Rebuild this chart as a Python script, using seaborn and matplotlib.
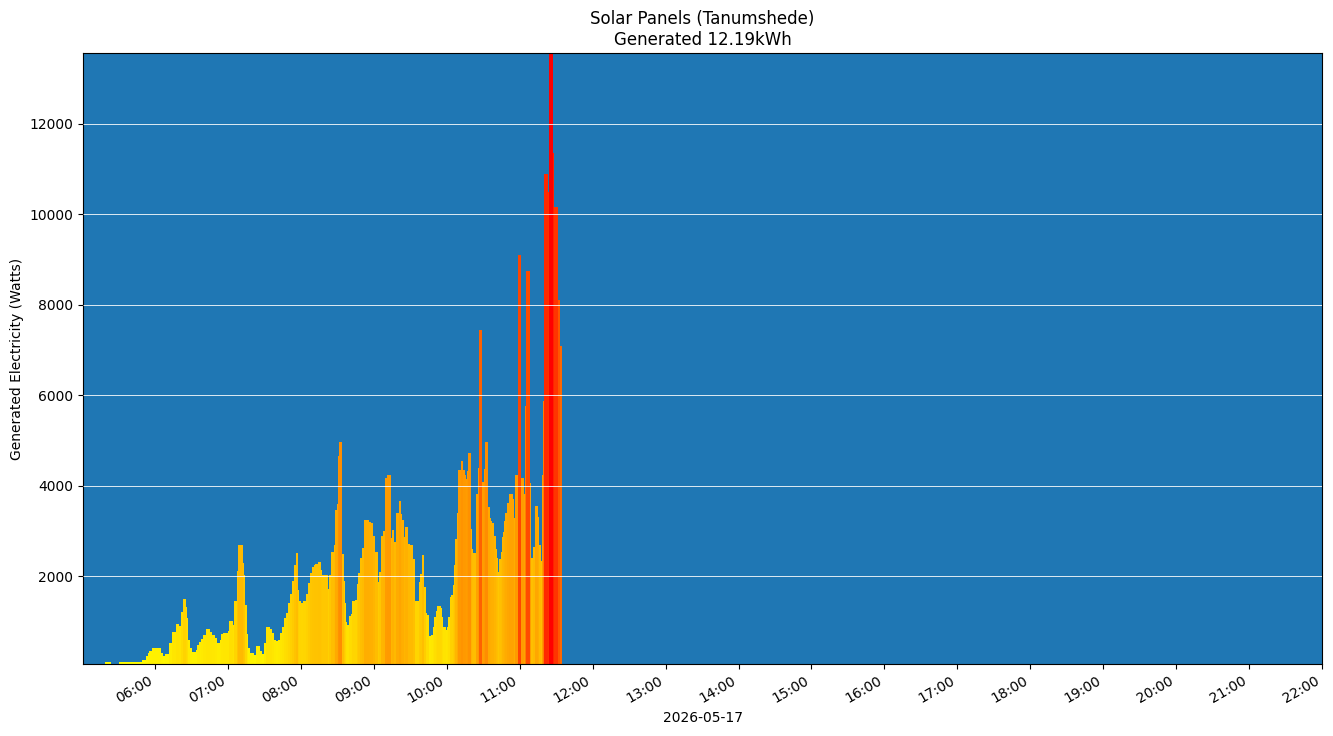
import matplotlib
matplotlib.use("Agg")
import matplotlib.pyplot as plt
import matplotlib.dates as mdates
from matplotlib.colors import LinearSegmentedColormap
import numpy as np
import pandas as pd
import seaborn as sns

# readings: minutes after 05:00 when the power level changed, and the level (W)
day = "2026-05-17"
start_min = [19.0, 24.0, 30.5, 49.1, 52.4, 54.0, 55.1, 57.3, 65.0, 66.1, 67.8, 68.3, 71.1, 71.6,
             73.8, 77.1, 79.3, 79.8, 81.5, 82.6, 85.3, 86.4, 87.0, 88.6, 90.3, 93.5, 94.6, 96.3,
             97.4, 99.0, 101.8, 105.1, 106.7, 108.9, 110.6, 113.3, 114.4, 116.0, 120.2, 121.0,
             124.3, 125.1, 127.6, 128.4, 132.5, 133.3, 134.2, 135.8, 136.6, 138.3, 141.6, 143.2,
             146.5, 148.2, 149.8, 151.5, 154.8, 156.4, 158.0, 159.7, 161.3, 163.0, 164.6, 166.3,
             167.9, 169.6, 171.2, 172.9, 174.5, 176.2, 177.8, 178.6, 180.3, 181.9, 184.4, 186.0,
             187.7, 189.3, 191.0, 191.8, 194.3, 196.7, 197.5, 202.5, 203.3, 205.0, 207.4, 208.2,
             209.9, 210.7, 211.5, 214.0, 215.6, 216.5, 217.3, 218.1, 219.7, 221.4, 222.2, 224.7,
             226.3, 227.2, 228.8, 230.4, 232.1, 236.2, 237.8, 239.5, 241.1, 243.6, 244.4, 246.1,
             247.7, 249.4, 251.0, 254.3, 255.1, 256.8, 258.4, 260.9, 262.5, 263.4, 265.0, 265.8,
             268.3, 269.9, 272.4, 274.1, 277.3, 278.2, 279.8, 281.5, 283.1, 283.9, 285.6, 287.2,
             288.9, 289.7, 291.3, 292.2, 295.5, 296.3, 297.1, 299.6, 300.4, 301.2, 302.9, 303.7,
             305.3, 306.2, 307.0, 308.6, 309.4, 311.9, 313.6, 315.2, 316.0, 316.8, 317.7, 320.1,
             321.0, 321.8, 324.3, 325.9, 326.7, 329.2, 330.8, 331.7, 334.1, 335.8, 336.6, 337.4,
             339.1, 340.7, 341.6, 342.4, 343.2, 344.9, 345.7, 346.5, 347.3, 348.1, 349.8, 351.4,
             354.7, 355.5, 356.4, 358.8, 361.3, 363.8, 364.6, 365.4, 368.7, 369.5, 371.2, 372.8,
             375.3, 376.1, 377.8, 378.6, 379.4, 380.2, 383.5, 384.3, 387.6, 388.5, 391.8, 393.4]
watts = [100, 0, 100, 150, 240, 310, 350, 420, 310, 240, 170, 290, 420, 530,
         770, 950, 700, 900, 1210, 1500, 1320, 1080, 600, 420, 330, 370, 480, 550,
         620, 700, 830, 770, 700, 640, 530, 600, 730, 750, 790, 1010,
         920, 1450, 2120, 2690, 2300, 2030, 1370, 730, 420, 310, 260, 460,
         350, 280, 530, 880, 850, 750, 600, 570, 600, 750, 880, 1080,
         1200, 1410, 1620, 1900, 2250, 2510, 1700, 1455, 1410, 1455, 1620, 1860,
         2075, 2210, 2250, 2270, 2310, 2150, 2030, 1720, 2030, 2540, 2690, 3460,
         3600, 4670, 4960, 2500, 1900, 1410, 990, 925, 1120, 1170, 1455, 1470,
         1830, 2070, 2410, 2630, 3240, 3200, 3170, 2890, 2540, 1880, 2100, 2890,
         3000, 4170, 4250, 2850, 3020, 2750, 3390, 3660, 3370, 3240, 2870, 3090,
         2710, 2690, 2380, 1455, 1880, 2050, 2470, 1760, 1190, 1140, 680, 700,
         880, 1100, 1230, 1340, 1300, 1100, 880, 815, 880, 1100, 1540, 1590,
         1810, 2250, 2820, 3390, 4340, 4560, 4340, 4250, 4150, 4320, 4730, 3040,
         2600, 2520, 3830, 4400, 7450, 4080, 4370, 4960, 3530, 3290, 3220, 3170,
         2900, 2600, 2400, 2100, 2380, 2540, 2870, 2980, 3220, 3410, 3630, 3810,
         3720, 3290, 4250, 9100, 4180, 3810, 5760, 8750, 4060, 2410, 2650, 3550,
         3310, 2700, 2340, 4230, 5870, 10890, 10500, 13560, 11360, 10160, 8110, 7100]
end_min = 395.0

t0 = pd.Timestamp(day + " 05:00")
starts = [t0 + pd.Timedelta(minutes=m) for m in start_min]
edges = starts + [t0 + pd.Timedelta(minutes=end_min)]
df = pd.DataFrame({"time": mdates.date2num(starts), "watts": watts})
bin_edges = [float(e) for e in mdates.date2num(edges)]

fig, ax = plt.subplots(figsize=(13.33, 7.36), dpi=100)
fig.subplots_adjust(left=83 / 1333, right=1322 / 1333, top=1 - 53 / 736, bottom=1 - 664 / 736)
ax.set_facecolor("#1f77b4")

sns.histplot(data=df, x="time", weights="watts", bins=bin_edges, stat="count",
             linewidth=0, alpha=1, ax=ax)

# colour each bar by its output, yellow -> red
peak = max(watts)
cmap = LinearSegmentedColormap.from_list("sun", ["#ffff00", "#ff0000"], gamma=0.8)
for p in ax.patches:
    p.set_facecolor(cmap(p.get_height() / peak))
    p.set_edgecolor("none")

ax.set_xlim(mdates.date2num(t0 + pd.Timedelta(seconds=40)),
            mdates.date2num(pd.Timestamp(day + " 22:00")))
ax.set_ylim(66, peak)
ax.xaxis.set_major_locator(mdates.HourLocator())
ax.xaxis.set_major_formatter(mdates.DateFormatter("%H:%M"))
plt.setp(ax.get_xticklabels(), rotation=30, ha="right")

ax.grid(axis="y", color="white", linewidth=0.7, alpha=0.85)
ax.set_axisbelow(False)

ax.set_title("Solar Panels (Tanumshede)\nGenerated 12.19kWh")
ax.set_xlabel(day)
ax.set_ylabel("Generated Electricity (Watts)")

fig.savefig("out.png", dpi=100)
